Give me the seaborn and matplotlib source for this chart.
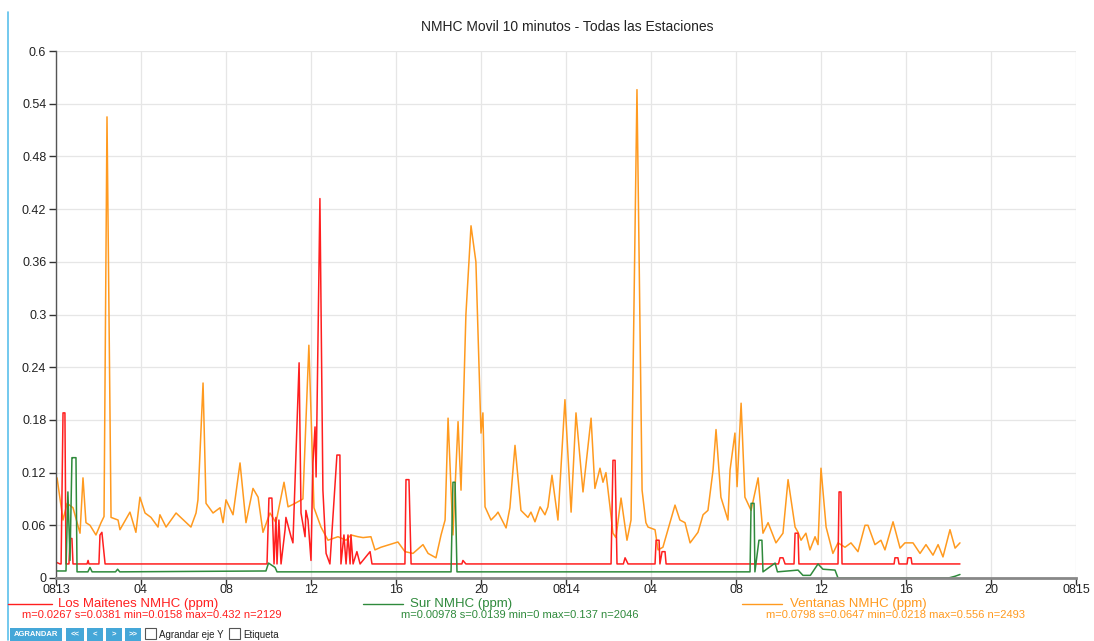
import numpy as np
import pandas as pd
import matplotlib
matplotlib.use("Agg")
import matplotlib.pyplot as plt
from matplotlib.lines import Line2D
from matplotlib.patches import Rectangle
import seaborn as sns

# -------------------------
# Data (hours since 08-13 00:00, ppm)
# -------------------------
ventanas_h = [0.05, 0.33, 0.52, 0.8, 1.13, 1.27, 1.41, 1.6, 1.88, 2.12, 2.26, 2.4, 2.59, 2.92, 3.01,
              3.48, 3.76, 3.95, 4.19, 4.47, 4.8, 4.89, 5.18, 5.65, 6.35, 6.59, 6.68, 6.92, 7.06, 7.39,
              7.72, 7.86, 8.0, 8.33, 8.66, 8.94, 9.27, 9.51, 9.74, 10.07, 10.35, 10.73, 10.92, 11.25,
              11.62, 11.9, 12.14, 12.47, 12.8, 13.27, 13.65, 13.88, 14.21, 14.45, 14.82, 15.01,
              15.29, 16.09, 16.42, 16.8, 17.27, 17.51, 17.88, 18.12, 18.31, 18.45, 18.68, 18.92,
              19.06, 19.29, 19.53, 19.76, 20.0, 20.09, 20.19, 20.47, 20.71, 20.8, 21.18, 21.36,
              21.6, 21.88, 22.21, 22.35, 22.54, 22.78, 23.01, 23.15, 23.34, 23.62, 23.95, 24.24,
              24.47, 24.8, 25.18, 25.36, 25.6, 25.74, 25.88, 26.07, 26.21, 26.35, 26.59, 26.87,
              27.06, 27.34, 27.58, 27.76, 27.86, 28.19, 28.33, 28.56, 29.13, 29.36, 29.6, 29.84,
              30.21, 30.45, 30.68, 30.92, 31.06, 31.29, 31.62, 31.72, 31.95, 32.05, 32.24, 32.42,
              32.71, 33.04, 33.27, 33.51, 33.88, 34.21, 34.45, 34.78, 34.92, 35.06, 35.29, 35.48,
              35.72, 35.86, 36.0, 36.24, 36.56, 36.8, 37.13, 37.41, 37.74, 38.07, 38.21, 38.54,
              38.82, 39.01, 39.39, 39.72, 39.95, 40.33, 40.66, 40.94, 41.27, 41.51, 41.74, 42.07,
              42.31, 42.54]
ventanas_v = [0.114, 0.066, 0.085, 0.08, 0.051, 0.114, 0.063, 0.06, 0.049, 0.063, 0.07, 0.525, 0.069,
              0.066, 0.055, 0.075, 0.052, 0.092, 0.074, 0.069, 0.058, 0.072, 0.058, 0.074, 0.058,
              0.074, 0.089, 0.222, 0.085, 0.074, 0.08, 0.063, 0.089, 0.072, 0.131, 0.063, 0.102,
              0.092, 0.052, 0.074, 0.063, 0.109, 0.081, 0.085, 0.09, 0.265, 0.08, 0.058, 0.043,
              0.047, 0.043, 0.049, 0.047, 0.046, 0.047, 0.032, 0.035, 0.041, 0.03, 0.028, 0.038,
              0.028, 0.023, 0.049, 0.066, 0.182, 0.049, 0.178, 0.1, 0.3, 0.401, 0.36, 0.165, 0.188,
              0.081, 0.066, 0.072, 0.075, 0.057, 0.08, 0.151, 0.077, 0.069, 0.075, 0.064, 0.081,
              0.072, 0.081, 0.117, 0.066, 0.203, 0.075, 0.188, 0.098, 0.182, 0.102, 0.125, 0.109,
              0.12, 0.081, 0.051, 0.046, 0.091, 0.043, 0.066, 0.556, 0.1, 0.063, 0.058, 0.055,
              0.032, 0.035, 0.083, 0.066, 0.063, 0.04, 0.052, 0.072, 0.077, 0.123, 0.169, 0.092,
              0.066, 0.123, 0.165, 0.104, 0.199, 0.092, 0.077, 0.114, 0.051, 0.063, 0.04, 0.051,
              0.112, 0.058, 0.052, 0.043, 0.051, 0.032, 0.047, 0.038, 0.125, 0.058, 0.028, 0.04,
              0.035, 0.04, 0.03, 0.06, 0.06, 0.038, 0.043, 0.032, 0.064, 0.034, 0.04, 0.04, 0.028,
              0.038, 0.026, 0.038, 0.024, 0.055, 0.034, 0.04]

maitenes_h = [0.0, 0.19, 0.24, 0.33, 0.42, 0.47, 0.61, 0.66, 0.75, 0.8, 1.46, 1.51, 1.55, 2.02, 2.07,
              2.16, 2.21, 2.31, 9.93, 10.02, 10.16, 10.26, 10.35, 10.4, 10.49, 10.59, 10.78, 10.82,
              11.06, 11.15, 11.44, 11.53, 11.72, 11.76, 11.86, 12.0, 12.09, 12.19, 12.24, 12.42,
              12.56, 12.71, 12.89, 13.22, 13.36, 13.41, 13.55, 13.65, 13.74, 13.84, 13.88, 13.98,
              14.16, 14.31, 14.78, 14.87, 16.42, 16.47, 16.61, 16.71, 19.1, 19.15, 19.29, 26.12,
              26.21, 26.31, 26.4, 26.7, 26.78, 26.92, 28.19, 28.24, 28.38, 28.42, 28.52, 28.66,
              28.71, 34.0, 34.07, 34.21, 34.31, 34.73, 34.78, 34.92, 34.96, 36.8, 36.85, 36.94,
              36.99, 39.44, 39.48, 39.62, 39.67, 40.05, 40.09, 40.24, 40.28, 42.54]
maitenes_v = [0.018, 0.016, 0.016, 0.188, 0.188, 0.016, 0.016, 0.045, 0.045, 0.016, 0.016, 0.02,
              0.016, 0.016, 0.049, 0.052, 0.04, 0.016, 0.016, 0.091, 0.091, 0.016, 0.069, 0.016,
              0.066, 0.016, 0.055, 0.069, 0.047, 0.04, 0.245, 0.074, 0.047, 0.077, 0.066, 0.02,
              0.131, 0.172, 0.115, 0.432, 0.1, 0.028, 0.016, 0.14, 0.14, 0.016, 0.049, 0.016, 0.049,
              0.016, 0.049, 0.016, 0.03, 0.016, 0.03, 0.016, 0.016, 0.112, 0.112, 0.016, 0.016,
              0.02, 0.016, 0.016, 0.134, 0.134, 0.016, 0.016, 0.023, 0.016, 0.016, 0.043, 0.043,
              0.016, 0.03, 0.03, 0.016, 0.016, 0.023, 0.023, 0.016, 0.016, 0.051, 0.051, 0.016,
              0.016, 0.098, 0.098, 0.016, 0.016, 0.023, 0.023, 0.016, 0.016, 0.023, 0.023, 0.016,
              0.016]

sur_h = [0.0, 0.47, 0.56, 0.66, 0.75, 0.8, 0.94, 0.99, 1.5, 1.6, 1.7, 2.8, 2.9, 3.0, 9.88, 10.0,
         10.31, 10.4, 18.59, 18.68, 18.78, 18.87, 24.0, 32.66, 32.71, 32.85, 32.89, 33.08, 33.22,
         33.27, 33.84, 33.95, 34.92, 35.15, 35.5, 35.86, 36.09, 36.66, 36.8, 42.0, 42.31, 42.54]
sur_v = [0.008, 0.008, 0.098, 0.02, 0.137, 0.137, 0.137, 0.007, 0.007, 0.012, 0.007, 0.007, 0.01,
         0.007, 0.008, 0.017, 0.012, 0.007, 0.007, 0.109, 0.109, 0.007, 0.007, 0.007, 0.085,
         0.085, 0.007, 0.043, 0.043, 0.007, 0.017, 0.007, 0.009, 0.003, 0.003, 0.016, 0.01,
         0.009, 0.0, 0.0, 0.002, 0.004]

hour_ticks = [0, 4, 8, 12, 16, 20, 24, 28, 32, 36, 40, 44, 48]
hour_labels = ["0813", "04", "08", "12", "16", "20", "0814", "04", "08", "12", "16", "20", "0815"]
y_ticks = [0, 0.06, 0.12, 0.18, 0.24, 0.3, 0.36, 0.42, 0.48, 0.54, 0.6]
y_labels = ["0", "0.06", "0.12", "0.18", "0.24", "0.3", "0.36", "0.42", "0.48", "0.54", "0.6"]

series = [
    ("Los Maitenes NMHC (ppm)", "m=0.0267 s=0.0381 min=0.0158 max=0.432 n=2129", maitenes_h, maitenes_v, "#ff1f1f"),
    ("Sur NMHC (ppm)", "m=0.00978 s=0.0139 min=0 max=0.137 n=2046", sur_h, sur_v, "#2f8a3c"),
    ("Ventanas NMHC (ppm)", "m=0.0798 s=0.0647 min=0.0218 max=0.556 n=2493", ventanas_h, ventanas_v, "#ff9a1f"),
]

# -------------------------
# Plot
# -------------------------
sns.set_theme(style="whitegrid")
plt.rcParams['font.family'] = ['Liberation Sans', 'DejaVu Sans']

fig = plt.figure(figsize=(10.94, 6.41), dpi=100)
ax = fig.add_axes([56 / 1094, 1 - 578 / 641, 1020 / 1094, 527 / 641])

# draw order: orange under, then red, green
for name, stats, h, v, col in [series[2], series[0], series[1]]:
    df = pd.DataFrame({"hora": h, "ppm": v})
    sns.lineplot(data=df, x="hora", y="ppm", ax=ax, color=col, linewidth=1.1,
                 estimator=None, sort=False)

ax.set_xlim(0, 48)
ax.set_ylim(0, 0.6)
ax.set_xticks(hour_ticks)
ax.set_xticklabels(hour_labels, fontsize=9, color="#222222")
ax.set_yticks(y_ticks)
ax.set_yticklabels(y_labels, fontsize=9, color="#222222")
ax.set_xlabel("")
ax.set_ylabel("")
ax.set_facecolor("white")
ax.grid(True, color="#e6e6e6", linewidth=0.9)
for s in ["top", "right"]:
    ax.spines[s].set_visible(False)
ax.spines["left"].set_color("#555555")
ax.spines["bottom"].set_color("#888888")
ax.spines["bottom"].set_linewidth(2.0)
ax.spines["left"].set_linewidth(1.0)
ax.tick_params(axis="x", direction="out", length=5, width=1, color="#333333", pad=-1, bottom=True)
ax.tick_params(axis="y", direction="out", length=5, width=1, color="#333333", pad=2, left=True)

fig.text(567 / 1094, 1 - 27 / 641, "NMHC Movil 10 minutos - Todas las Estaciones",
         ha="center", va="center", fontsize=10, color="#222222")

# page accents
fig.add_artist(Line2D([8 / 1094, 8 / 1094], [1 - 12 / 641, 1 - 640 / 641],
                      transform=fig.transFigure, color="#5bc0eb", linewidth=1.2))

# legend built manually like the reference
legend_pos = [(8, 52, 58, 152), (363, 403, 410, 520), (742, 782, 790, 896)]
for (name, stats, h, v, col), (lx0, lx1, tx, sx) in zip(series, legend_pos):
    fig.add_artist(Line2D([lx0 / 1094, lx1 / 1094], [1 - 604 / 641] * 2,
                          transform=fig.transFigure, color=col, linewidth=1.0))
    fig.text(tx / 1094, 1 - 604 / 641, name, ha="left", va="center", fontsize=9.5, color=col)
    fig.text(sx / 1094, 1 - 615 / 641, stats, ha="center", va="center", fontsize=8, color=col)

# buttons and checkboxes
buttons = [("AGRANDAR", 10, 62), ("<<", 66, 84), ("<", 87, 103), (">", 106, 122), (">>", 125, 141)]
for label, bx0, bx1 in buttons:
    fig.add_artist(Rectangle((bx0 / 1094, 1 - 641 / 641), (bx1 - bx0) / 1094, 13 / 641,
                             transform=fig.transFigure, facecolor="#45a7d8", edgecolor="none"))
    fig.text((bx0 + bx1) / 2 / 1094, 1 - 635 / 641, label, ha="center", va="center",
             fontsize=5.5, color="white", fontweight="bold")
for label, cx in [("Agrandar eje Y", 145), ("Etiqueta", 229)]:
    fig.add_artist(Rectangle((cx / 1094, 1 - 639 / 641), 11 / 1094, 11 / 641,
                             transform=fig.transFigure, facecolor="white", edgecolor="#555555",
                             linewidth=0.8))
    fig.text((cx + 14) / 1094, 1 - 635 / 641, label, ha="left", va="center",
             fontsize=7, color="#222222")

fig.savefig("out.png", dpi=100)
